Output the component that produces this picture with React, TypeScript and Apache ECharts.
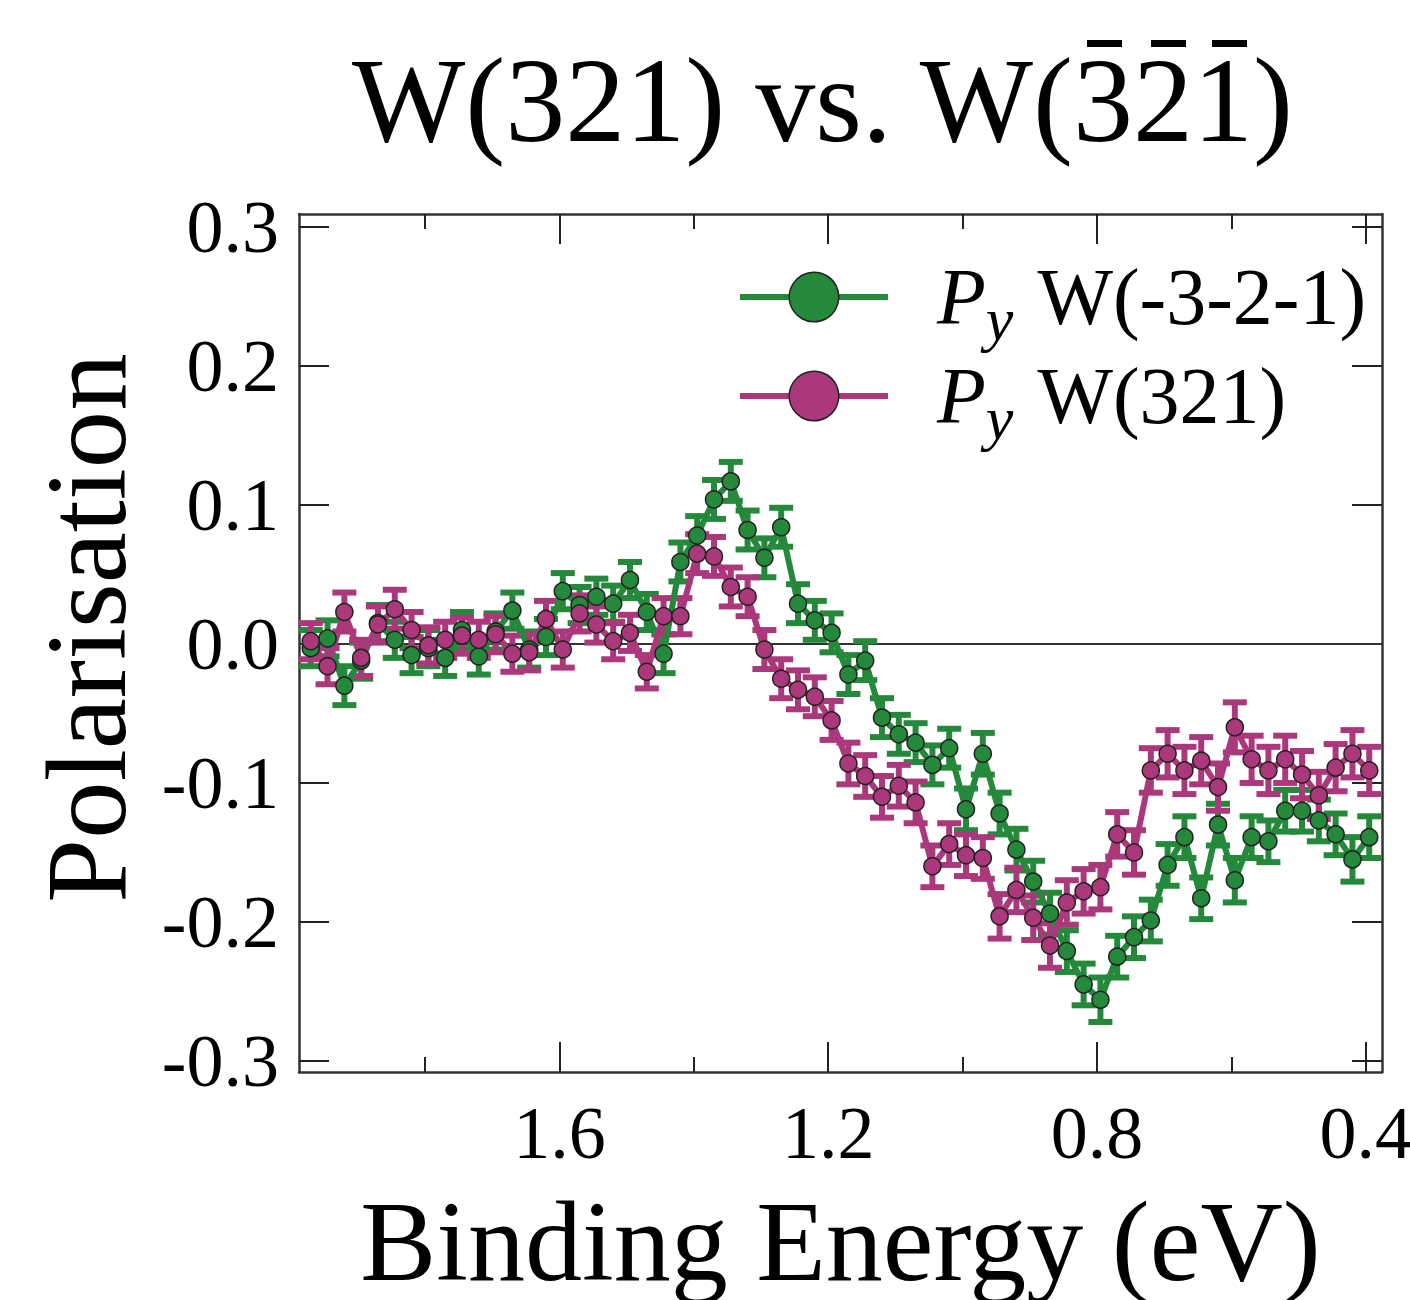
import React, { useEffect, useRef } from 'react';
import * as echarts from 'echarts';

// Binding energy (eV) of each measured point
const energy = [
  1.970, 1.945, 1.920, 1.895, 1.870, 1.845, 1.820, 1.795, 1.770, 1.745,
  1.720, 1.695, 1.670, 1.645, 1.620, 1.595, 1.570, 1.545, 1.520, 1.495,
  1.470, 1.445, 1.420, 1.395, 1.370, 1.345, 1.320, 1.295, 1.270, 1.245,
  1.220, 1.195, 1.170, 1.145, 1.120, 1.095, 1.070, 1.045, 1.020, 0.995,
  0.970, 0.945, 0.920, 0.895, 0.870, 0.845, 0.820, 0.795, 0.770, 0.745,
  0.720, 0.695, 0.670, 0.645, 0.620, 0.595, 0.570, 0.545, 0.520, 0.495,
  0.470, 0.445, 0.420, 0.395,
];

// P_y W(-3-2-1)
const greenValues = [
  -0.003, 0.004, -0.030, -0.012, 0.015, 0.003, -0.008, -0.003, -0.010, 0.010,
  -0.009, 0.009, 0.024, -0.004, 0.005, 0.038, 0.028, 0.034, 0.029, 0.046,
  0.023, -0.007, 0.059, 0.078, 0.104, 0.117, 0.082, 0.062, 0.084, 0.029,
  0.017, 0.008, -0.022, -0.012, -0.053, -0.065, -0.071, -0.087, -0.075, -0.119,
  -0.079, -0.122, -0.148, -0.171, -0.194, -0.221, -0.245, -0.256, -0.225, -0.211,
  -0.199, -0.159, -0.139, -0.183, -0.130, -0.170, -0.139, -0.142, -0.120, -0.120,
  -0.127, -0.137, -0.155, -0.139,
];
const greenErrors = [
  0.013, 0.013, 0.014, 0.013, 0.013, 0.013, 0.013, 0.013, 0.013, 0.013,
  0.013, 0.013, 0.013, 0.013, 0.013, 0.013, 0.013, 0.013, 0.013, 0.013,
  0.013, 0.014, 0.014, 0.014, 0.014, 0.014, 0.014, 0.014, 0.014, 0.014,
  0.014, 0.014, 0.014, 0.014, 0.014, 0.014, 0.014, 0.014, 0.014, 0.015,
  0.015, 0.015, 0.015, 0.015, 0.015, 0.015, 0.015, 0.016, 0.015, 0.015,
  0.015, 0.015, 0.015, 0.015, 0.015, 0.016, 0.015, 0.015, 0.015, 0.015,
  0.015, 0.015, 0.016, 0.015,
];

// P_y W(321)
const purpleValues = [
  0.002, -0.016, 0.023, -0.010, 0.014, 0.025, 0.010, -0.001, 0.003, 0.006,
  0.003, 0.007, -0.007, -0.006, 0.018, -0.004, 0.022, 0.014, 0.002, 0.008,
  -0.020, 0.020, 0.020, 0.065, 0.063, 0.041, 0.034, -0.004, -0.025, -0.033,
  -0.038, -0.055, -0.086, -0.095, -0.110, -0.102, -0.114, -0.160, -0.144, -0.152,
  -0.154, -0.196, -0.177, -0.197, -0.217, -0.186, -0.178, -0.175, -0.137, -0.150,
  -0.091, -0.079, -0.091, -0.084, -0.103, -0.060, -0.083, -0.091, -0.083, -0.094,
  -0.109, -0.089, -0.079, -0.091,
];
const purpleErrors = [
  0.013, 0.013, 0.014, 0.013, 0.013, 0.014, 0.013, 0.013, 0.013, 0.013,
  0.013, 0.013, 0.013, 0.013, 0.013, 0.013, 0.013, 0.013, 0.013, 0.013,
  0.012, 0.013, 0.013, 0.014, 0.014, 0.014, 0.014, 0.014, 0.014, 0.014,
  0.014, 0.014, 0.015, 0.015, 0.015, 0.015, 0.015, 0.015, 0.015, 0.015,
  0.015, 0.016, 0.016, 0.016, 0.016, 0.016, 0.016, 0.016, 0.016, 0.016,
  0.016, 0.017, 0.017, 0.017, 0.017, 0.018, 0.017, 0.017, 0.017, 0.017,
  0.017, 0.017, 0.017, 0.017,
];

const xMajorTicks = [0.4, 0.8, 1.2, 1.6];
const xMinorTicks = [0.6, 1.0, 1.4, 1.8];
const yTicks = [-0.3, -0.2, -0.1, 0.0, 0.1, 0.2, 0.3];

const X_MIN = 0.376;
const X_MAX = 1.9875;
const Y_MIN = -0.308;
const Y_MAX = 0.3094;

const GREEN = '#25893b';
const PURPLE = '#ac387c';
const FONT = '"Liberation Serif", "Times New Roman", serif';
const TITLE = 'W(321) vs. W(321)';
// x positions (px) of the overbars above the last three digits of the title
const TITLE_BAR_X = [1087, 1151, 1212];
const G_NAME = 'Py W(-3-2-1)';
const P_NAME = 'Py W(321)';
const LEGEND_TEXT: Record<string, string> = {
  [G_NAME]: '{p|P}{s|y}{w|W(-3-2-1)}',
  [P_NAME]: '{p|P}{s|y}{w|W(321)}',
};

function errorBarSeries(name: string, values: number[], errors: number[], color: string) {
  return {
    type: 'custom',
    name,
    xAxisIndex: 0,
    yAxisIndex: 0,
    silent: true,
    z: 2,
    data: energy.map((e, i) => [e, values[i], errors[i]]),
    encode: { x: 0, y: 1 },
    renderItem: (params: any, api: any) => {
      const x = api.value(0);
      const y = api.value(1);
      const err = api.value(2);
      const hi = api.coord([x, y + err]);
      const lo = api.coord([x, y - err]);
      const hw = 12;
      const style = { stroke: color, lineWidth: 6 };
      return {
        type: 'group',
        children: [
          { type: 'line', shape: { x1: hi[0], y1: hi[1], x2: lo[0], y2: lo[1] }, style },
          { type: 'line', shape: { x1: hi[0] - hw, y1: hi[1], x2: hi[0] + hw, y2: hi[1] }, style },
          { type: 'line', shape: { x1: lo[0] - hw, y1: lo[1], x2: lo[0] + hw, y2: lo[1] }, style },
        ],
      };
    },
  };
}

function lineSeries(name: string, values: number[], color: string, extra: any = {}) {
  return {
    type: 'line',
    name,
    xAxisIndex: 0,
    yAxisIndex: 0,
    z: 3,
    data: energy.map((e, i) => [e, values[i]]),
    symbol: 'circle',
    symbolSize: 17,
    showSymbol: true,
    lineStyle: { color, width: 6 },
    itemStyle: { color, borderColor: '#222', borderWidth: 1.5 },
    emphasis: { disabled: true },
    ...extra,
  };
}

const AXIS_LINE = { show: true, onZero: false, lineStyle: { color: '#333', width: 2.5 } };
const TICK_STYLE = { color: '#222', width: 2 };

function xAxisDef(position: string, ticks: number[], length: number, labels: boolean, showLine: boolean) {
  return {
    type: 'value',
    position,
    min: X_MIN,
    max: X_MAX,
    inverse: true,
    axisLine: showLine ? AXIS_LINE : { show: false, onZero: false },
    axisTick: { show: true, inside: true, length, customValues: ticks, lineStyle: TICK_STYLE },
    axisLabel: labels
      ? {
          show: true,
          customValues: ticks,
          margin: 24,
          fontSize: 74,
          fontFamily: FONT,
          color: '#000',
          formatter: (v: number) => v.toFixed(1),
        }
      : { show: false },
    splitLine: { show: false },
    ...(labels
      ? {
          name: 'Binding Energy (eV)',
          nameLocation: 'middle',
          nameGap: 112,
          nameTextStyle: { fontSize: 114, fontFamily: FONT, color: '#000' },
        }
      : {}),
  };
}

function yAxisDef(position: string, labels: boolean) {
  return {
    type: 'value',
    position,
    min: Y_MIN,
    max: Y_MAX,
    axisLine: AXIS_LINE,
    axisTick: { show: true, inside: true, length: 30, customValues: yTicks, lineStyle: TICK_STYLE },
    axisLabel: labels
      ? {
          show: true,
          customValues: yTicks,
          margin: 20,
          fontSize: 74,
          fontFamily: FONT,
          color: '#000',
          formatter: (v: number) => v.toFixed(1),
        }
      : { show: false },
    splitLine: { show: false },
    ...(labels
      ? {
          name: 'Polarisation',
          nameLocation: 'middle',
          nameRotate: 90,
          nameGap: 155,
          nameTextStyle: { fontSize: 115, fontFamily: FONT, color: '#000', padding: [0, 0, 0, 30] },
        }
      : {}),
  };
}

export default function App() {
  const ref = useRef<HTMLDivElement>(null);

  useEffect(() => {
    if (!ref.current) return;
    const chart = echarts.init(ref.current, null, { renderer: 'svg' });
    const option: any = {
      animation: false,
      backgroundColor: '#ffffff',
      title: {
        text: TITLE,
        left: 352,
        top: 40,
        padding: 0,
        textStyle: { fontFamily: FONT, fontSize: 120, fontWeight: 'normal', color: '#000' },
      },
      graphic: TITLE_BAR_X.map((x) => ({
        type: 'rect',
        left: x,
        top: 40,
        shape: { width: 35, height: 7 },
        style: { fill: '#000' },
        silent: true,
      })),
      grid: { left: 299, top: 214, width: 1083, height: 858, containLabel: false, outerBoundsMode: 'none' },
      legend: {
        data: [G_NAME, P_NAME],
        orient: 'vertical',
        left: 732,
        top: 252,
        itemWidth: 148,
        itemHeight: 62,
        itemGap: 6,
        selectedMode: false,
        formatter: (name: string) => LEGEND_TEXT[name],
        lineStyle: { width: 6 },
        itemStyle: { borderColor: '#222', borderWidth: 1.5 },
        textStyle: {
          fontFamily: FONT,
          color: '#000',
          rich: {
            p: { fontFamily: FONT, fontStyle: 'italic', fontSize: 80, color: '#000', padding: [0, 0, 0, 44] },
            s: { fontFamily: FONT, fontStyle: 'italic', fontSize: 62, color: '#000', padding: [44, 0, 0, 0] },
            w: { fontFamily: FONT, fontSize: 80, color: '#000', padding: [0, 0, 0, 24] },
          },
        },
      },
      xAxis: [
        xAxisDef('bottom', xMajorTicks, 30, true, true),
        xAxisDef('bottom', xMinorTicks, 15, false, false),
        xAxisDef('top', xMajorTicks, 30, false, true),
        xAxisDef('top', xMinorTicks, 15, false, false),
      ],
      yAxis: [yAxisDef('left', true), yAxisDef('right', false)],
      series: [
        errorBarSeries('errG', greenValues, greenErrors, GREEN),
        lineSeries(G_NAME, greenValues, GREEN, {
          markLine: {
            silent: true,
            z: 1,
            symbol: ['none', 'none'],
            label: { show: false },
            lineStyle: { color: '#333', width: 2, type: 'solid' },
            data: [{ yAxis: 0 }],
          },
        }),
        errorBarSeries('errP', purpleValues, purpleErrors, PURPLE),
        lineSeries(P_NAME, purpleValues, PURPLE),
      ],
    };
    chart.setOption(option);
    return () => chart.dispose();
  }, []);

  return (
    <div
      ref={ref}
      style={{ position: 'absolute', left: 0, top: 0, width: 1410, height: 1300 }}
    />
  );
}
